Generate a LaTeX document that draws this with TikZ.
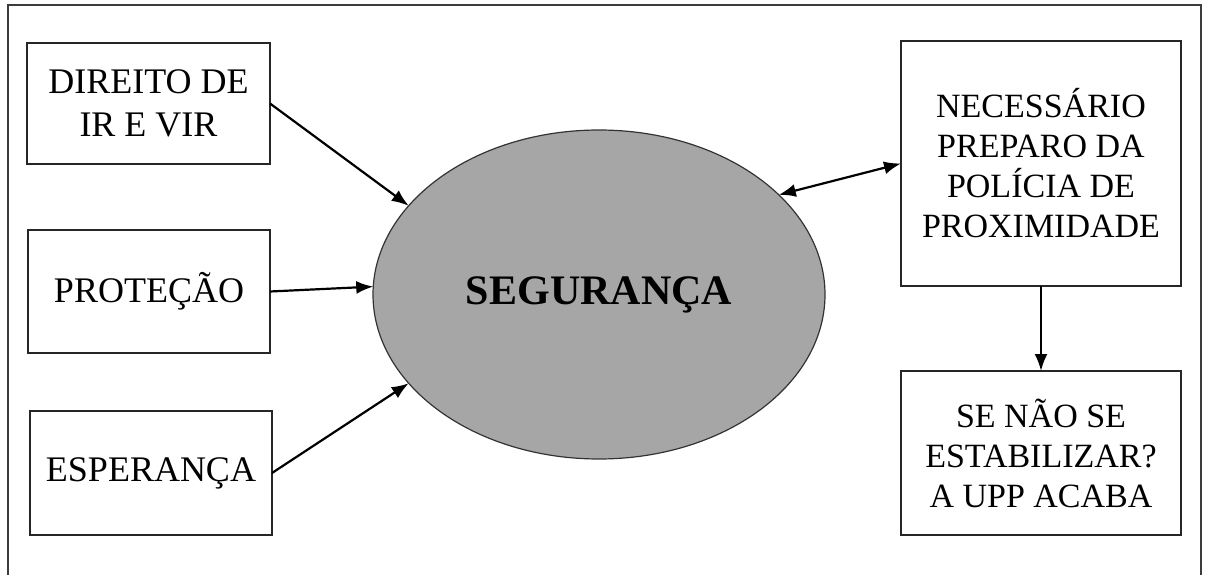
\documentclass[tikz,border=0pt]{standalone}
\usepackage{fontspec}
\setmainfont{Liberation Serif}
\usetikzlibrary{shapes.geometric,arrows.meta}
\definecolor{ellgray}{RGB}{166,166,166}
\definecolor{framegray}{RGB}{60,60,60}
\tikzset{
  box/.style={draw=black!85, line width=2.2pt, fill=white, inner sep=0pt, outer sep=0pt,
    align=center, font=\fontsize{36}{43}\selectfont},
  conn/.style={line width=2.2pt, -{Latex[length=17pt,width=13pt]}},
  dconn/.style={line width=2.2pt, {Latex[length=17pt,width=13pt]}-{Latex[length=17pt,width=13pt]}},
}
\begin{document}
\begin{tikzpicture}[x=1pt,y=-1pt]
\useasboundingbox (0,0) rectangle (1207,575);
\draw[framegray, line width=2pt] (8,575) -- (8,5) -- (1201,5) -- (1201,575);
\node[box, minimum width=243pt, minimum height=121pt] (dir) at (148.5,103.5) {DIREITO DE\\IR E VIR};
\node[box, minimum width=242pt, minimum height=123pt] (pro) at (149,291.5) {PROTEÇÃO};
\node[box, minimum width=242pt, minimum height=124pt] (esp) at (151,473) {ESPERANÇA};
\node[box, minimum width=280pt, minimum height=245pt, font=\fontsize{34}{40}\selectfont] (nec) at (1041,163.5) {NECESSÁRIO\\PREPARO DA\\POLÍCIA DE\\PROXIMIDADE};
\node[box, minimum width=280pt, minimum height=164pt, font=\fontsize{34}{40}\selectfont] (se) at (1041,453) {SE NÃO SE\\ESTABILIZAR?\\A UPP ACABA};
\node[ellipse, draw=black!80, line width=1.2pt, fill=ellgray, minimum width=452pt, minimum height=329pt, inner sep=0pt, outer sep=0pt, font=\bfseries\fontsize{42}{50}\selectfont] (seg) at (599,294.5) {SEGURANÇA};
\draw[conn] (dir.east) -- (seg.155);
\draw[conn] (pro.east) -- (seg.178.4);
\draw[conn] (esp.east) -- (seg.205);
\draw[dconn] (seg.29.2) -- (nec.west);
\draw[conn] (nec.south) -- (se.north);
\end{tikzpicture}
\end{document}
